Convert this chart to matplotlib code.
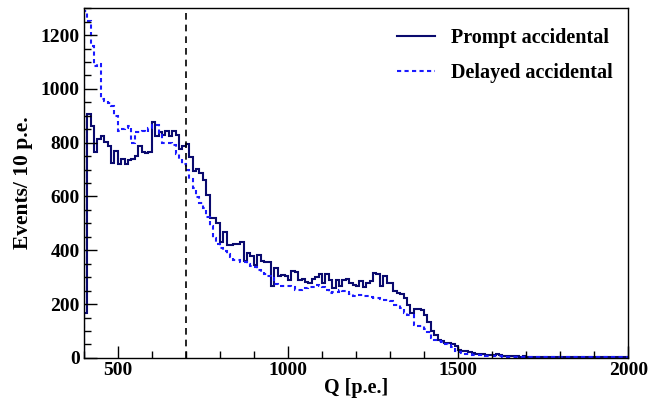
import numpy as np
import matplotlib
matplotlib.use("Agg")
import matplotlib.pyplot as plt
from matplotlib.lines import Line2D
from matplotlib.ticker import MultipleLocator

# --- data: events per 10 p.e. bin, Q from 400 to 2000 ---
q_lo, q_hi, q_step = 400, 2000, 10
cut_q = 700

prompt = [
    165, 906, 862, 764, 815, 825, 802, 788, 723, 769,
    719, 738, 721, 735, 740, 750, 786, 765, 763, 765,
    876, 825, 838, 828, 843, 825, 842, 828, 778, 786,
    794, 746, 695, 701, 688, 660, 605, 521, 521, 500,
    430, 468, 421, 421, 425, 425, 430, 359, 390, 378,
    347, 384, 359, 355, 355, 266, 334, 303, 309, 303,
    291, 322, 319, 290, 293, 281, 278, 293, 300, 312,
    280, 312, 291, 260, 291, 266, 291, 293, 278, 272,
    268, 284, 263, 278, 284, 316, 313, 268, 305, 280,
    277, 248, 242, 237, 221, 195, 168, 181, 181, 178,
    160, 134, 100, 86, 68, 61, 55, 57, 53, 45,
    30, 26, 24, 20, 17, 15, 15, 14, 12, 11,
    12, 14, 10, 8, 7, 7, 6, 7, 5, 6,
    5, 4, 5, 4, 3, 4, 5, 3, 4, 3,
    3, 4, 3, 2, 3, 3, 2, 3, 2, 3,
    2, 3, 2, 2, 3, 2, 2, 3, 2, 2,
]

delayed = [
    1290, 1253, 1160, 1086, 1092, 961, 955, 948, 937, 899,
    844, 850, 856, 862, 800, 838, 838, 844, 838, 856,
    866, 866, 830, 800, 800, 800, 790, 757, 738, 719,
    697, 665, 632, 598, 576, 558, 522, 490, 445, 425,
    410, 398, 386, 375, 362, 362, 358, 356, 350, 342,
    338, 328, 318, 312, 304, 298, 275, 268, 268, 266,
    266, 262, 252, 253, 256, 258, 263, 265, 270, 266,
    262, 251, 242, 245, 246, 252, 250, 246, 236, 230,
    232, 235, 229, 229, 226, 222, 222, 220, 215, 214,
    213, 195, 195, 187, 166, 161, 159, 123, 120, 117,
    107, 96, 75, 68, 64, 58, 50, 48, 40, 26,
    20, 18, 15, 13, 12, 11, 10, 9, 8, 8,
    7, 6, 6, 5, 5, 4, 5, 4, 4, 3,
    4, 3, 3, 4, 3, 3, 2, 3, 3, 2,
    3, 2, 2, 3, 2, 2, 3, 2, 2, 2,
    2, 2, 3, 2, 2, 2, 2, 2, 2, 2,
]

edges = np.arange(q_lo, q_hi + q_step, q_step)

# --- style (ROOT-like) ---
plt.rcParams['font.family'] = ['Liberation Serif', 'DejaVu Serif']
plt.rcParams['font.weight'] = 'bold'
plt.rcParams['axes.labelweight'] = 'bold'

fig = plt.figure(figsize=(6.49, 4.09), dpi=100)
ax = fig.add_axes([0.129, 0.125, 0.839, 0.855])

ax.stairs(prompt, edges, color='#0a0a6e', lw=1.5)
ax.stairs(delayed, edges, color='#1a1aff', lw=1.5, linestyle=(0, (2, 1.6)))
ax.axvline(cut_q, color='black', lw=1.2, linestyle=(0, (4, 3)))

ax.set_xlim(q_lo, q_hi)
ax.set_ylim(0, 1300)

ax.xaxis.set_major_locator(MultipleLocator(500))
ax.xaxis.set_minor_locator(MultipleLocator(100))
ax.yaxis.set_major_locator(MultipleLocator(200))
ax.yaxis.set_minor_locator(MultipleLocator(50))
ax.tick_params(which='both', direction='in', labelsize=14)
ax.tick_params(which='major', length=9, width=1)
ax.tick_params(which='minor', length=5, width=1)
ax.tick_params(axis='x', pad=3)
ax.tick_params(axis='y', pad=3)
for lab in ax.get_xticklabels() + ax.get_yticklabels():
    lab.set_fontweight('bold')
for s in ax.spines.values():
    s.set_linewidth(1.0)

ax.set_xlabel('Q [p.e.]', fontsize=14.5, fontweight='bold', labelpad=-1)
ax.set_ylabel('Events/ 10 p.e.', fontsize=15.5, fontweight='bold', labelpad=5)

handles = [
    Line2D([], [], color='#0a0a6e', lw=1.5),
    Line2D([], [], color='#1a1aff', lw=1.5, linestyle=(0, (2, 1.6))),
]
ax.legend(handles, ['Prompt accidental', 'Delayed accidental'],
          loc='upper right', frameon=False, fontsize=14.5,
          handlelength=1.9, handletextpad=0.8, labelspacing=0.75,
          bbox_to_anchor=(1.005, 0.995))

fig.savefig('out.png', dpi=100)
